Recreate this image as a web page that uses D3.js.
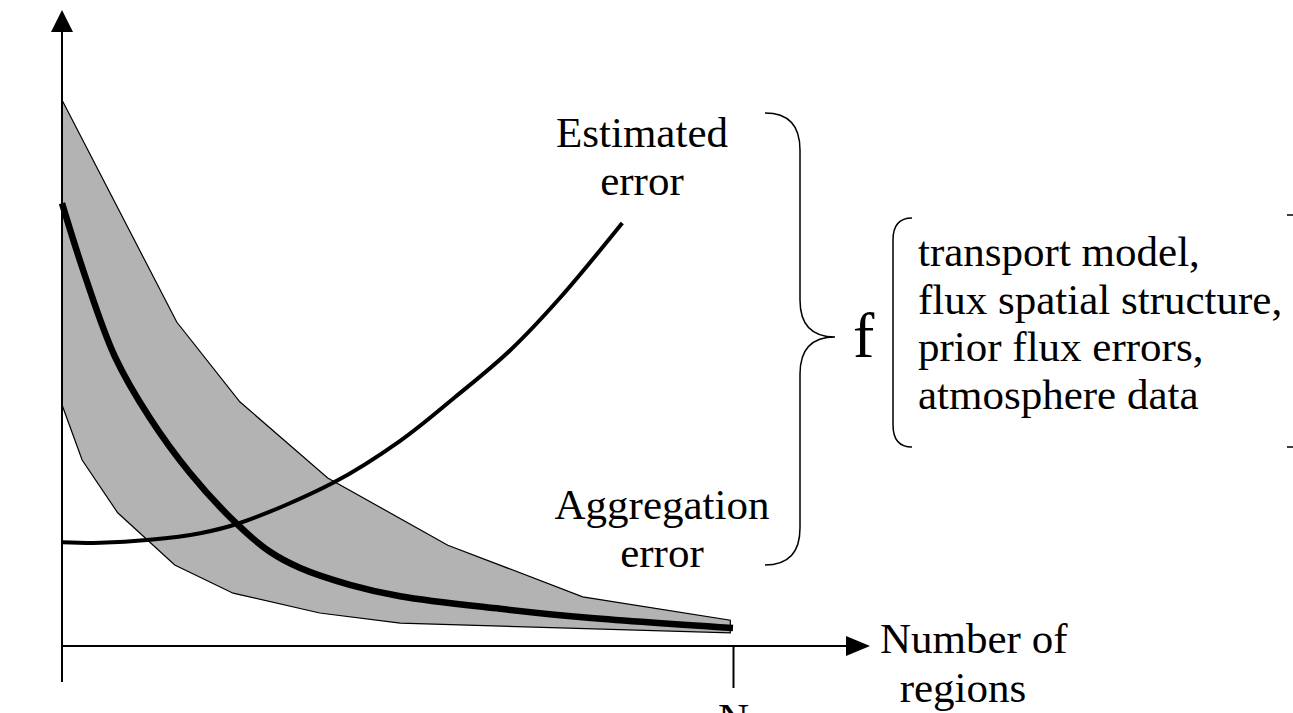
<!DOCTYPE html>
<html>
<head>
<meta charset="utf-8">
<script src="https://cdn.jsdelivr.net/npm/d3@7"></script>
<style>
  body { margin: 0; background: #fff; }
  svg { display: block; }
  text { font-family: "Liberation Serif", "Times New Roman", serif; fill: #000; }
</style>
</head>
<body>
<div id="chart"></div>
<script>
// schematic values (x: 0..100 = 0..N, y: arbitrary error units)
const upperX = [0, 17.1, 26.5, 39.6, 57.5, 77.6, 99.6];
const upperY = [91.0, 54.0, 40.7, 28.0, 16.8, 8.2, 4.3];
const lowerX = [0, 3.0, 8.3, 16.8, 25.5, 38.4, 50.4, 99.6];
const lowerY = [40.2, 31.0, 22.2, 13.5, 8.8, 5.5, 3.8, 2.2];

const aggX = [0, 3.4, 7.9, 13.1, 19.1, 26.1, 31.0, 35.5, 42.9, 50.4, 65.3, 77.6, 100];
const aggY = [73.8, 61.8, 48.2, 38.0, 28.8, 20.3, 15.7, 13.0, 10.2, 8.3, 6.2, 4.8, 3.0];

const estX = [0, 5.7, 13.1, 20.6, 26.5, 40.4, 50.4, 58.6, 66.8, 74.2, 83.5];
const estY = [17.3, 17.2, 17.7, 18.8, 20.5, 27.2, 34.2, 41.5, 49.3, 58.0, 70.5];

const xTickLabels = ["N"];
const xLabel = ["Number of", "regions"];
const estLabel = ["Estimated", "error"];
const aggLabel = ["Aggregation", "error"];
const factors = ["transport model,", "flux spatial structure,", "prior flux errors,", "atmosphere data"];

const W = 1293;
const H = 713;
const FS = 43;

const svg = d3.select("#chart").append("svg").attr("width", W).attr("height", H);

const x = d3.scaleLinear().domain([0, 100]).range([62, 733]);
const y = d3.scaleLinear().domain([0, 100]).range([646, 46]);

const pts = (xs, ys) => xs.map((v, i) => [x(v), y(ys[i])]);

// shaded band
const band = pts(upperX, upperY).concat(pts(lowerX, lowerY).reverse());
svg.append("path")
  .attr("d", d3.line()(band) + "Z")
  .attr("fill", "#b3b3b3")
  .attr("stroke", "#000")
  .attr("stroke-width", 1.2);

// axes
const x0 = x(0), yBase = y(0);
svg.append("line")
  .attr("x1", x0).attr("x2", x0)
  .attr("y1", yBase + 36).attr("y2", 30)
  .attr("stroke", "#000").attr("stroke-width", 2);
svg.append("path")
  .attr("d", `M${x0},10 L${x0 - 11},32 L${x0 + 11},32 Z`)
  .attr("fill", "#000");

svg.append("line")
  .attr("x1", x0).attr("x2", 850)
  .attr("y1", yBase).attr("y2", yBase)
  .attr("stroke", "#000").attr("stroke-width", 2);
svg.append("path")
  .attr("d", `M870,${yBase} L846,${yBase - 10} L846,${yBase + 10} Z`)
  .attr("fill", "#000");

const xAxis = svg.append("g")
  .attr("transform", `translate(0,${yBase})`)
  .call(d3.axisBottom(x).tickValues([100]).tickFormat(() => xTickLabels[0])
    .tickSize(42).tickPadding(14).tickSizeOuter(0));
xAxis.select(".domain").remove();
xAxis.selectAll("line").attr("stroke", "#000").attr("stroke-width", 2);
xAxis.selectAll("text").attr("font-size", FS).attr("font-family", "Liberation Serif");

// curves
const curve = d3.line().curve(d3.curveCatmullRom.alpha(0.5));
svg.append("path")
  .attr("d", curve(pts(estX, estY)))
  .attr("fill", "none").attr("stroke", "#000").attr("stroke-width", 4);
svg.append("path")
  .attr("d", curve(pts(aggX, aggY)))
  .attr("fill", "none").attr("stroke", "#000").attr("stroke-width", 6.5);

// labels
function lines(arr, px, py, step, anchor, size) {
  const t = svg.append("text").attr("font-size", size).attr("text-anchor", anchor);
  arr.forEach((s, i) => t.append("tspan").attr("x", px).attr("y", py + i * step).text(s));
}
lines(estLabel, 642, 147, 48, "middle", FS);
lines(aggLabel, 662, 519, 48, "middle", FS);
svg.append("text").attr("font-size", FS).attr("x", 880).attr("y", 653).text(xLabel[0]);
svg.append("text").attr("font-size", FS).attr("x", 963).attr("y", 702).attr("text-anchor", "middle").text(xLabel[1]);

// braces
svg.append("path")
  .attr("d", "M765,113 Q800,113 800,150 L800,300 Q800,337 835,337 Q800,337 800,374 L800,528 Q800,565 765,565")
  .attr("fill", "none").attr("stroke", "#000").attr("stroke-width", 1.5);
svg.append("text").attr("font-size", 64).attr("x", 853).attr("y", 357).text("f");
svg.append("path")
  .attr("d", "M912,218 Q893,218 893,240 L893,425 Q893,447 912,447")
  .attr("fill", "none").attr("stroke", "#000").attr("stroke-width", 1.5);
svg.append("path")
  .attr("d", "M1287,215 L1293,215 M1287,447 L1293,447")
  .attr("fill", "none").attr("stroke", "#000").attr("stroke-width", 1.5);
lines(factors, 918, 266, 47.5, "start", FS);
</script>
</body>
</html>
